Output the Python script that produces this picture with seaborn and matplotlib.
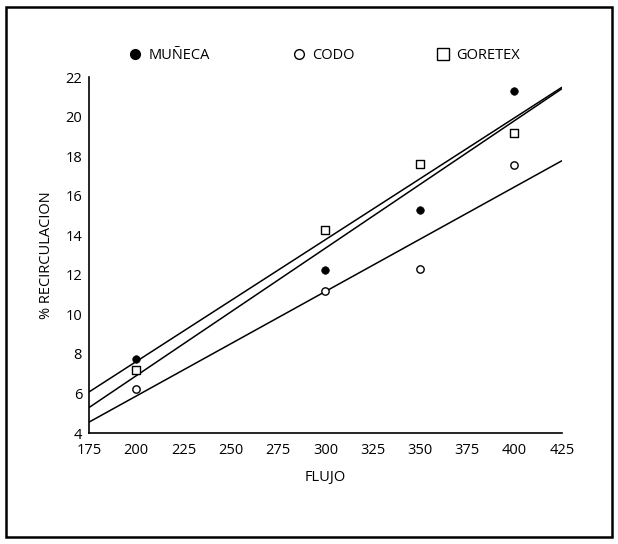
import matplotlib
matplotlib.use("Agg")
import matplotlib.pyplot as plt
from matplotlib.lines import Line2D
from matplotlib.patches import Rectangle
import seaborn as sns

# Datos
flujo = [200, 300, 350, 400]
muneca = [7.76, 12.27, 15.3, 21.3]
codo = [6.24, 11.17, 12.32, 17.56]
goretex = [7.2, 14.25, 17.6, 19.16]

x_ticks = [175, 200, 225, 250, 275, 300, 325, 350, 375, 400, 425]
y_ticks = [4, 6, 8, 10, 12, 14, 16, 18, 20, 22]

sns.set_style("white")
plt.rcParams['font.family'] = ['Open Sans', 'DejaVu Sans']
plt.rcParams['text.color'] = 'black'
plt.rcParams['axes.labelcolor'] = 'black'
plt.rcParams['xtick.color'] = 'black'
plt.rcParams['ytick.color'] = 'black'

fig = plt.figure(figsize=(6.18, 5.44), dpi=100)
ax = fig.add_axes([0.144, 0.204, 0.765, 0.654])
ax.set_xlim(175, 425)
ax.set_ylim(4, 22)

# rectas de regresión extendidas a todo el eje x
line_kws = {'color': 'black', 'lw': 1.1}
for serie in [muneca, codo, goretex]:
    sns.regplot(x=flujo, y=serie, ax=ax, scatter=False, ci=None, truncate=False, line_kws=line_kws)

sns.scatterplot(x=flujo, y=muneca, ax=ax, marker='o', s=30, color='black', edgecolor='black', zorder=5)
sns.scatterplot(x=flujo, y=codo, ax=ax, marker='o', s=28, facecolor='white', edgecolor='black', linewidth=1, zorder=5)
sns.scatterplot(x=flujo, y=goretex, ax=ax, marker='s', s=32, facecolor='white', edgecolor='black', linewidth=1, zorder=5)

ax.set_xlim(175, 425)
ax.set_ylim(4, 22)
ax.set_xticks(x_ticks)
ax.set_yticks(y_ticks)
ax.tick_params(axis='both', labelsize=10.5, length=3, width=1, direction='out', pad=2)
ax.tick_params(axis='x', pad=4)
for s in ['top', 'right']:
    ax.spines[s].set_visible(False)
for s in ['left', 'bottom']:
    ax.spines[s].set_color('black')
    ax.spines[s].set_linewidth(1.2)

ax.set_xlabel('FLUJO', fontsize=10.5, labelpad=9)
ax.set_ylabel('% RECIRCULACION', fontsize=10.5, labelpad=8)

handles = [
    Line2D([], [], marker='o', ls='', markersize=7, markerfacecolor='black', markeredgecolor='black'),
    Line2D([], [], marker='o', ls='', markersize=7, markerfacecolor='white', markeredgecolor='black'),
    Line2D([], [], marker='s', ls='', markersize=8, markerfacecolor='white', markeredgecolor='black'),
]
ax.legend(handles, ['MUÑECA', 'CODO', 'GORETEX'], ncol=3, frameon=False, fontsize=10.5,
          loc='center left', bbox_to_anchor=(0.055, 1.06), columnspacing=5.6, handletextpad=0.4, handlelength=1)

# marco alrededor de la figura
fig.add_artist(Rectangle((0.01, 0.012), 0.98, 0.975, transform=fig.transFigure,
                         fill=False, edgecolor='black', lw=1.8))

fig.savefig('out.png', dpi=100)
